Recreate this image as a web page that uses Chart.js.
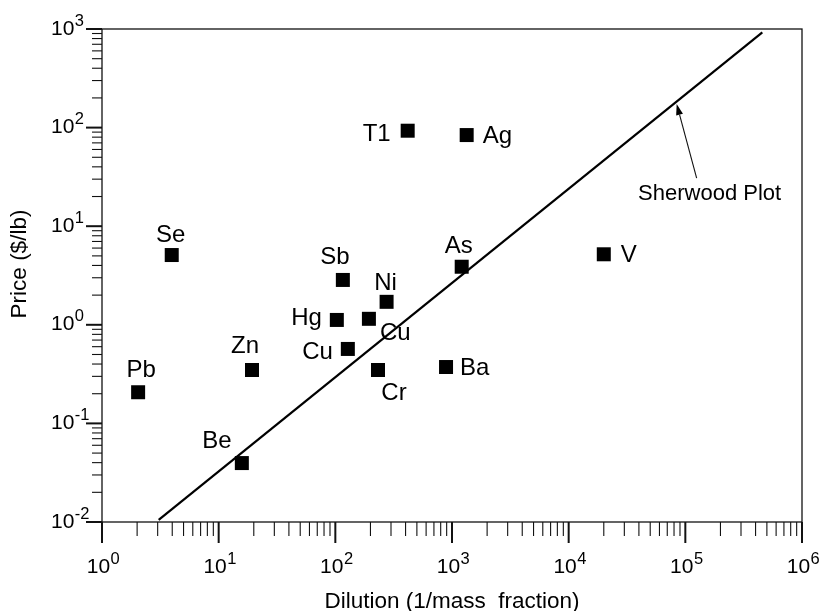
<!DOCTYPE html>
<html>
<head>
<meta charset="utf-8">
<script src="https://cdn.jsdelivr.net/npm/chart.js@4/dist/chart.umd.min.js"></script>
<style>
  body { margin: 0; background: #fff; }
  canvas { display: block; }
</style>
</head>
<body>
<canvas id="chart" width="821" height="611"></canvas>
<script>
// datos
const elements = ['T1', 'Ag', 'As', 'V', 'Sb', 'Ni', 'Hg', 'Cu', 'Cu', 'Cr', 'Ba', 'Pb', 'Zn', 'Be', 'Se'];
const dilution = [417, 1336, 1211, 20000, 116, 275, 103, 194, 128, 232, 889, 2.04, 19.3, 15.8, 3.96];
const price = [93, 84, 3.88, 5.19, 2.85, 1.71, 1.12, 1.15, 0.569, 0.348, 0.373, 0.207, 0.348, 0.0396, 5.1];

const sherwoodX = [3.06, 457000];
const sherwoodY = [0.0105, 926];
const arrowFrom = [125000, 30.8];
const arrowTo = [84300, 173.5];
const arrowText = 'Sherwood Plot';

const xExps = [0, 1, 2, 3, 4, 5, 6];
const yExps = [-2, -1, 0, 1, 2, 3];
const minorSteps = [2, 3, 4, 5, 6, 7, 8, 9];

const xTitle = 'Dilution (1/mass  fraction)';
const yTitle = 'Price ($/lb)';

// donde va cada etiqueta respecto a su cuadro: [alineacion, dx, dy]
const labelPlace = [
    ['right', -17, 10], ['left', 16, 8], ['center', -3, -14], ['left', 17, 8],
    ['center', -8, -16], ['center', -1, -12], ['right', -15, 5], ['left', 11, 21],
    ['right', -15, 10], ['center', 16, 30], ['left', 14, 8], ['center', 3, -15],
    ['center', -7, -17], ['center', -25, -15], ['center', -1, -13]
];

const FONT = '"Liberation Sans", Arial, Helvetica, sans-serif';

function powLabel(ctx, exp, x, baseline, centered) {
    const base = '10';
    const sup = String(exp);
    ctx.font = '21px ' + FONT;
    const wb = ctx.measureText(base).width;
    ctx.font = '16.5px ' + FONT;
    const ws = ctx.measureText(sup).width;
    const start = centered ? x - (wb + ws) / 2 : x;
    ctx.textAlign = 'left';
    ctx.textBaseline = 'alphabetic';
    ctx.font = '21px ' + FONT;
    ctx.fillText(base, start, baseline);
    ctx.font = '16.5px ' + FONT;
    ctx.fillText(sup, start + wb + 0.5, baseline - 9);
}

const decorations = {
    id: 'decorations',
    afterDatasetsDraw(chart) {
        const { ctx, chartArea: a, scales: { x, y } } = chart;
        ctx.save();
        ctx.strokeStyle = '#111';
        ctx.fillStyle = '#000';

        // marco
        ctx.lineWidth = 1.3;
        ctx.strokeRect(a.left, a.top, a.right - a.left, a.bottom - a.top);

        const line = (x1, y1, x2, y2, w) => {
            ctx.lineWidth = w;
            ctx.beginPath();
            ctx.moveTo(x1, y1);
            ctx.lineTo(x2, y2);
            ctx.stroke();
        };

        // marcas eje x
        xExps.forEach((e, i) => {
            const px = x.getPixelForValue(Math.pow(10, e));
            line(px, a.bottom, px, a.bottom + 21, 2);
            if (i < xExps.length - 1) {
                minorSteps.forEach(m => {
                    const p = x.getPixelForValue(m * Math.pow(10, e));
                    line(p, a.bottom, p, a.bottom + 14, 1.1);
                });
            }
            powLabel(ctx, e, px + 1, 573, true);
        });

        // marcas eje y
        yExps.forEach((e, i) => {
            const py = y.getPixelForValue(Math.pow(10, e));
            line(a.left - 16, py, a.left, py, 2);
            if (i < yExps.length - 1) {
                minorSteps.forEach(m => {
                    const p = y.getPixelForValue(m * Math.pow(10, e));
                    line(a.left - 10, p, a.left, p, 1.1);
                });
            }
            powLabel(ctx, e, 51, py + 5.5, false);
        });

        // titulos
        ctx.font = '22.5px ' + FONT;
        ctx.textAlign = 'center';
        ctx.textBaseline = 'alphabetic';
        ctx.fillText(xTitle, (a.left + a.right) / 2, 608);
        ctx.save();
        ctx.translate(26, 264);
        ctx.rotate(-Math.PI / 2);
        ctx.fillText(yTitle, 0, 0);
        ctx.restore();

        // nombres de los elementos
        const pts = chart.getDatasetMeta(1).data;
        ctx.font = '24px ' + FONT;
        pts.forEach((pt, i) => {
            const [align, dx, dy] = labelPlace[i];
            ctx.textAlign = align;
            ctx.fillText(elements[i], pt.x + dx, pt.y + dy);
        });

        // flecha
        const tx = x.getPixelForValue(arrowFrom[0]), ty = y.getPixelForValue(arrowFrom[1]);
        const hx = x.getPixelForValue(arrowTo[0]), hy = y.getPixelForValue(arrowTo[1]);
        const ang = Math.atan2(hy - ty, hx - tx);
        const len = 11, half = 3.5;
        const bx = hx - len * Math.cos(ang), by = hy - len * Math.sin(ang);
        line(tx, ty, bx, by, 1.1);
        ctx.beginPath();
        ctx.moveTo(hx, hy);
        ctx.lineTo(bx + half * Math.sin(ang), by - half * Math.cos(ang));
        ctx.lineTo(bx - half * Math.sin(ang), by + half * Math.cos(ang));
        ctx.closePath();
        ctx.fill();

        ctx.font = '22px ' + FONT;
        ctx.textAlign = 'center';
        ctx.fillText(arrowText, tx + 13, ty + 22);

        ctx.restore();
    }
};

new Chart(document.getElementById('chart'), {
    type: 'scatter',
    data: {
        datasets: [
            {
                type: 'line',
                label: 'Sherwood',
                data: sherwoodX.map((v, i) => ({ x: v, y: sherwoodY[i] })),
                borderColor: '#000',
                borderWidth: 2.2,
                pointRadius: 0,
                fill: false
            },
            {
                label: 'Elementos',
                data: dilution.map((v, i) => ({ x: v, y: price[i] })),
                pointStyle: 'rect',
                pointRadius: 9.9,
                pointHoverRadius: 9.9,
                backgroundColor: '#000',
                borderWidth: 0
            }
        ]
    },
    options: {
        responsive: false,
        devicePixelRatio: 1,
        animation: false,
        events: [],
        layout: { padding: { left: 0, top: 29, right: 19, bottom: 0 } },
        plugins: {
            legend: { display: false },
            tooltip: { enabled: false }
        },
        scales: {
            x: {
                type: 'logarithmic',
                min: 1,
                max: 1e6,
                grid: { display: false },
                border: { display: false },
                ticks: { display: false },
                afterFit: s => { s.height = 89; }
            },
            y: {
                type: 'logarithmic',
                min: 0.01,
                max: 1000,
                grid: { display: false },
                border: { display: false },
                ticks: { display: false },
                afterFit: s => { s.width = 102; }
            }
        }
    },
    plugins: [decorations]
});
</script>
</body>
</html>
